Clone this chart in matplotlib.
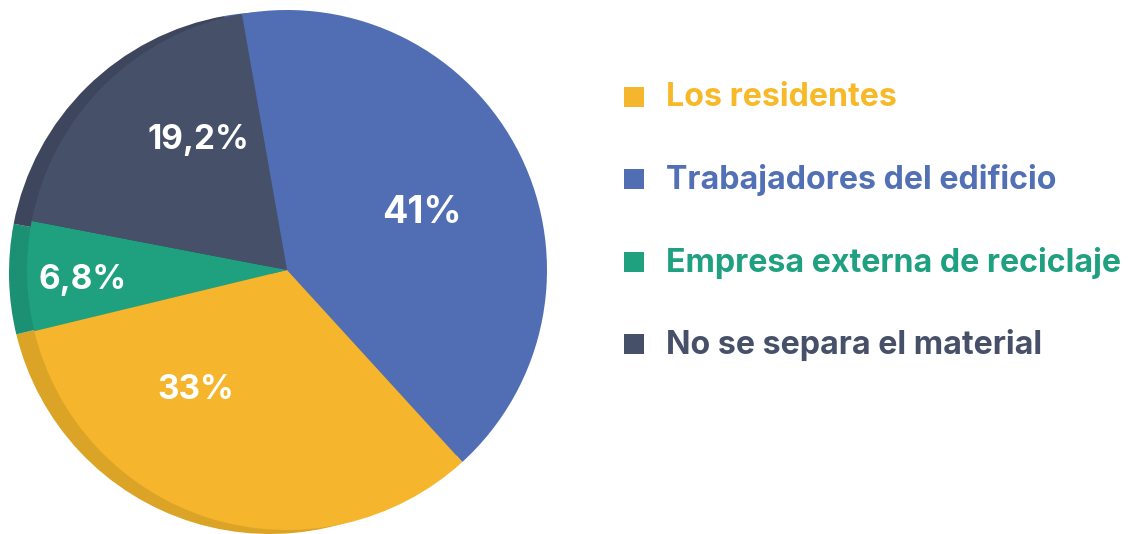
import matplotlib.pyplot as plt
from matplotlib.patches import Rectangle

# data (legend order)
categories = ["Los residentes", "Trabajadores del edificio",
              "Empresa externa de reciclaje", "No se separa el material"]
values = [33, 41, 6.8, 19.2]
pct_labels = ["33%", "41%", "6,8%", "19,2%"]
colors = ["#F5B52C", "#516EB5", "#1FA07F", "#475069"]
shadow_colors = ["#DCA426", "#4A64A5", "#1B9073", "#3E465D"]
text_colors = ["#F7B928", "#5270B6", "#1FA080", "#475069"]

# order of the wedges around the pie (clockwise from the top)
pie_order = [1, 0, 2, 3]

plt.rcParams['font.family'] = ['Inter', 'DejaVu Sans']

fig = plt.figure(figsize=(11.29, 5.34), dpi=100)
ax = fig.add_axes([0, 0, 1, 1])

vals = [values[i] for i in pie_order]
cx, cy, r = 287, 264, 260

# shadow pie, shifted left / down
ax.pie(vals, colors=[shadow_colors[i] for i in pie_order], startangle=100,
       counterclock=False, center=(cx - 17, cy - 3), radius=r + 1,
       wedgeprops=dict(linewidth=0), frame=True)

ax.pie(vals, colors=[colors[i] for i in pie_order], startangle=100,
       counterclock=False, center=(cx, cy), radius=r,
       wedgeprops=dict(linewidth=0), frame=True)

ax.set_xlim(0, 1129)
ax.set_ylim(0, 534)
ax.set_aspect('equal')
ax.axis('off')

# percent labels: (radius fraction x, y) relative to the pie centre, legend order
label_pos = [(-0.35, -0.46), (0.52, 0.22), (-0.785, -0.04), (-0.34, 0.50)]
label_size = [24, 27, 24, 24]
for i in range(4):
    dx, dy = label_pos[i]
    ax.text(cx + dx * r, cy + dy * r, pct_labels[i], color="white",
            fontsize=label_size[i], fontweight='bold', ha='center', va='center')

# legend
for i, name in enumerate(categories):
    y = 534 - (97 + 82.3 * i)
    ax.add_patch(Rectangle((624, y - 10), 20, 20, color=colors[i], lw=0))
    ax.text(666, y - 1, name, color=text_colors[i], fontsize=23.2,
            fontweight='bold', ha='left', va='center')

fig.savefig("out.png", dpi=100)
